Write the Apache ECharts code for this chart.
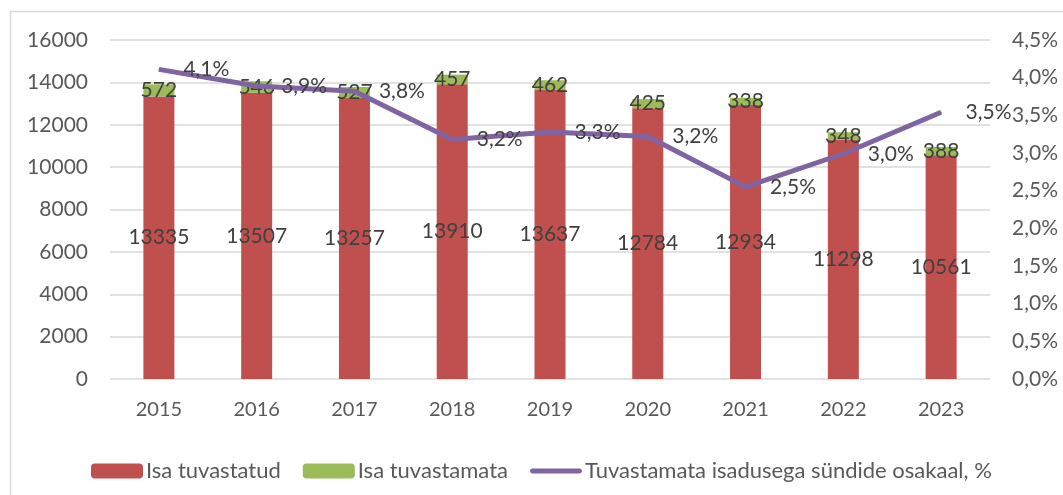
<!DOCTYPE html>
<html>
<head>
<meta charset="utf-8">
<script src="https://cdn.jsdelivr.net/npm/echarts@6/dist/echarts.min.js"></script>
<style>
  html, body { margin: 0; padding: 0; background: #fff; }
  #chart { width: 1063px; height: 495px; }
</style>
</head>
<body>
<div id="chart"></div>
<script>
const years = ['2015', '2016', '2017', '2018', '2019', '2020', '2021', '2022', '2023']
const fatherKnown = [13335, 13507, 13257, 13910, 13637, 12784, 12934, 11298, 10561]
const fatherUnknown = [572, 546, 527, 457, 462, 425, 338, 348, 388]
const unknownShare = [4.11, 3.89, 3.82, 3.18, 3.28, 3.22, 2.55, 2.99, 3.54]

const FONT = 'Lato'
const pct = v => v.toFixed(1).replace('.', ',') + '%'

const myChart = echarts.init(document.getElementById('chart'), null, { renderer: 'canvas' })

myChart.setOption({
  animation: false,
  color: ['#c0504d', '#9bbb59', '#8064a2'],
  textStyle: { fontFamily: FONT },
  graphic: [
    {
      type: 'rect',
      shape: { x: 10.5, y: 11.5, width: 1070, height: 500 },
      style: { fill: 'none', stroke: '#d9d9d9', lineWidth: 1.5 },
      silent: true
    }
  ],
  legend: {
    left: 86,
    top: 455,
    itemWidth: 52,
    itemHeight: 15,
    itemGap: 22,
    textStyle: { fontSize: 22, color: '#595959', fontFamily: FONT, padding: [0, 0, 0, -2] },
    data: [
      'Isa tuvastatud',
      'Isa tuvastamata',
      {
        name: 'Tuvastamata isadusega sündide osakaal, %',
        icon: 'path://M2.5,0 L51.5,0 A2.5,2.5 0 0 1 51.5,5 L2.5,5 A2.5,2.5 0 0 1 2.5,0 Z'
      }
    ]
  },
  grid: {
    left: 110,
    right: 73,
    top: 40,
    bottom: 116
  },
  xAxis: {
    type: 'category',
    data: years,
    axisLine: { show: false },
    axisTick: { show: false },
    axisLabel: { fontSize: 20, color: '#595959', margin: 21, fontFamily: FONT }
  },
  yAxis: [
    {
      type: 'value',
      min: 0,
      max: 16000,
      interval: 2000,
      axisLabel: {
        fontSize: 21,
        color: '#595959',
        margin: 22,
        fontFamily: FONT,
        formatter: v => String(v)
      },
      splitLine: { lineStyle: { color: '#d9d9d9', width: 1.5 } }
    },
    {
      type: 'value',
      min: 0,
      max: 4.5,
      interval: 0.5,
      axisLabel: {
        fontSize: 21,
        color: '#595959',
        margin: 22,
        fontFamily: FONT,
        formatter: pct
      },
      splitLine: { show: false }
    }
  ],
  series: [
    {
      name: 'Isa tuvastatud',
      type: 'bar',
      stack: 'total',
      barWidth: 31,
      data: fatherKnown,
      itemStyle: { color: '#c0504d' },
      label: {
        show: true,
        position: 'inside',
        fontSize: 21,
        color: '#404040',
        fontFamily: FONT
      }
    },
    {
      name: 'Isa tuvastamata',
      type: 'bar',
      stack: 'total',
      barWidth: 31,
      data: fatherUnknown,
      itemStyle: { color: '#9bbb59' },
      label: {
        show: true,
        position: 'inside',
        fontSize: 21,
        color: '#404040',
        fontFamily: FONT
      }
    },
    {
      name: 'Tuvastamata isadusega sündide osakaal, %',
      type: 'line',
      yAxisIndex: 1,
      data: unknownShare,
      symbol: 'circle',
      symbolSize: 1,
      showSymbol: true,
      z: 5,
      lineStyle: { color: '#8064a2', width: 5 },
      itemStyle: { color: '#8064a2' },
      label: {
        show: true,
        position: 'right',
        distance: 24,
        fontSize: 21,
        color: '#404040',
        fontFamily: FONT,
        formatter: p => pct(p.value)
      },
      labelLayout: { hideOverlap: false }
    }
  ]
})
</script>
</body>
</html>
